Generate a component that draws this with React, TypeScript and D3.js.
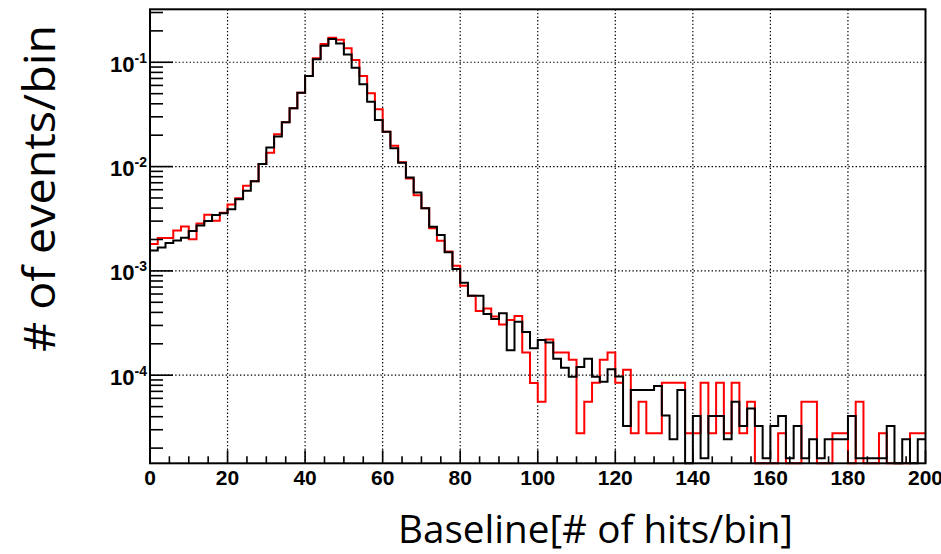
import * as d3 from "d3";

// bin width of the histogram (Baseline, # of hits/bin)
const binWidth = 2;
const xMin = 0;
const xMax = 200;

// red histogram, one value per 2-unit bin, 0..200
const redValues = [
  1.81e-3, 2.07e-3, 2.07e-3, 2.44e-3, 2.67e-3, 2.01e-3, 2.84e-3, 3.46e-3, 3.03e-3, 3.6e-3,
  4.33e-3, 4.97e-3, 6.56e-3, 7.24e-3, 1.06e-2, 1.36e-2, 2.04e-2, 2.66e-2, 3.62e-2, 5.11e-2,
  7.39e-2, 0.109, 0.15, 0.172, 0.164, 0.136, 0.105, 7.39e-2, 5.04e-2, 3.54e-2,
  2.16e-2, 1.58e-2, 1.1e-2, 7.69e-3, 5.31e-3, 3.98e-3, 2.56e-3, 1.95e-3, 1.53e-3, 1.12e-3,
  7.21e-4, 5.78e-4, 4.13e-4, 4.36e-4, 3.66e-4, 3.06e-4, 3.38e-4, 3.69e-4, 1.65e-4, 8.42e-5,
  5.57e-5, 2.2e-4, 1.65e-4, 1.65e-4, 1.41e-4, 2.77e-5, 5.57e-5, 8.47e-5, 1.41e-4, 1.65e-4,
  8.47e-5, 1.13e-4, 2.77e-5, 5.57e-5, 2.77e-5, 2.77e-5, 8.47e-5, 8.47e-5, 8.47e-5, 2.77e-5,
  2.77e-5, 8.47e-5, 2.77e-5, 8.47e-5, 2.77e-5, 8.47e-5, 2.77e-5, 5.57e-5, 0, 0,
  0, 2.77e-5, 0, 0, 5.57e-5, 5.57e-5, 0, 0, 2.77e-5, 2.77e-5,
  0, 5.57e-5, 0, 0, 2.77e-5, 0, 0, 0, 2.77e-5, 2.77e-5,
];

// black histogram
const blackValues = [
  1.57e-3, 1.68e-3, 1.85e-3, 1.96e-3, 2.08e-3, 2.41e-3, 2.72e-3, 3.01e-3, 3.44e-3, 3.57e-3,
  3.9e-3, 4.86e-3, 5.87e-3, 7.24e-3, 1.06e-2, 1.52e-2, 1.94e-2, 2.66e-2, 3.62e-2, 5.11e-2,
  7.39e-2, 0.107, 0.144, 0.167, 0.151, 0.119, 8.87e-2, 6.15e-2, 4.19e-2, 2.8e-2,
  2.16e-2, 1.5e-2, 1.09e-2, 7.86e-3, 5.65e-3, 3.98e-3, 2.65e-3, 2.21e-3, 1.51e-3, 1.04e-3,
  7.71e-4, 5.78e-4, 5.78e-4, 3.86e-4, 3.46e-4, 3.92e-4, 1.73e-4, 3.26e-4, 2.6e-4, 1.81e-4,
  2.17e-4, 2.06e-4, 1.44e-4, 1.18e-4, 9.68e-5, 1.2e-4, 1.44e-4, 9.68e-5, 8.67e-5, 1.14e-4,
  9.7e-5, 3.26e-5, 7.21e-5, 7.21e-5, 7.21e-5, 7.88e-5, 4.1e-5, 2.43e-5, 7.21e-5, 0,
  4.06e-5, 1.6e-5, 4.06e-5, 4.06e-5, 2.43e-5, 5.57e-5, 3.26e-5, 4.8e-5, 3.26e-5, 1.6e-5,
  3.26e-5, 4.06e-5, 1.6e-5, 3.26e-5, 1.6e-5, 2.43e-5, 1.6e-5, 2.43e-5, 2.43e-5, 2.43e-5,
  4.06e-5, 1.6e-5, 1.6e-5, 1.6e-5, 1.6e-5, 3.26e-5, 0, 2.43e-5, 0, 2.43e-5,
];

const xMajorTicks = [0, 20, 40, 60, 80, 100, 120, 140, 160, 180, 200];
const xMinorStep = 5;
const yDecades = [1e-4, 1e-3, 1e-2, 1e-1];
const yDecadeExponents = ["-4", "-3", "-2", "-1"];
const yMin = 1.43e-5;
const yMax = 0.322;

const W = 941;
const H = 554;
const frame = { left: 150, right: 925.5, top: 9.3, bottom: 463.3 };

const x = d3.scaleLinear().domain([xMin, xMax]).range([frame.left, frame.right]);
const y = d3
  .scaleLog()
  .domain([yMin, yMax])
  .range([frame.bottom, frame.top])
  .clamp(true);

function histPath(values: number[]) {
  const pts: [number, number][] = [];
  values.forEach((v, i) => {
    const yy = v > 0 ? y(v) : frame.bottom;
    pts.push([x(xMin + i * binWidth), yy], [x(xMin + (i + 1) * binWidth), yy]);
  });
  return d3.line()(pts) || "";
}

const labelFont = "'Liberation Sans', Arial, Helvetica, sans-serif";
const titleFont = "'Open Sans', 'Noto Sans', sans-serif";

export default function App() {
  const xMinor = d3.range(xMin, xMax + 0.001, xMinorStep).filter((t) => t % 20 !== 0);
  const yMinor: number[] = [];
  [1e-5, 1e-4, 1e-3, 1e-2, 1e-1].forEach((d) => {
    for (let m = 2; m <= 9; m++) {
      const v = m * d;
      if (v >= yMin && v <= yMax) yMinor.push(v);
    }
  });

  return (
    <svg
      width={W}
      height={H}
      style={{ position: "absolute", left: 0, top: 0, background: "#fff" }}
    >
      {/* grid */}
      <g stroke="#000" strokeWidth={1.2} strokeDasharray="1.4,2.2">
        {xMajorTicks
          .filter((t) => t > xMin && t < xMax)
          .map((t) => (
            <line key={"gx" + t} x1={x(t)} x2={x(t)} y1={frame.top} y2={frame.bottom} />
          ))}
        {yDecades.map((d) => (
          <line key={"gy" + d} x1={frame.left} x2={frame.right} y1={y(d)} y2={y(d)} />
        ))}
      </g>

      {/* histograms */}
      <path d={histPath(redValues)} fill="none" stroke="#ff0000" strokeWidth={2} />
      <path d={histPath(blackValues)} fill="none" stroke="#000" strokeWidth={2} />

      {/* frame */}
      <rect
        x={frame.left}
        y={frame.top}
        width={frame.right - frame.left}
        height={frame.bottom - frame.top}
        fill="none"
        stroke="#000"
        strokeWidth={2}
      />

      {/* y ticks */}
      <g stroke="#000" strokeWidth={1.6}>
        {yDecades.map((d) => (
          <line key={"ym" + d} x1={frame.left} x2={frame.left + 23} y1={y(d)} y2={y(d)} />
        ))}
        {yMinor.map((v) => (
          <line key={"yn" + v} x1={frame.left} x2={frame.left + 13} y1={y(v)} y2={y(v)} />
        ))}
      </g>

      {/* x ticks */}
      <g stroke="#000" strokeWidth={1.6}>
        {xMajorTicks.map((t) => (
          <line key={"xm" + t} x1={x(t)} x2={x(t)} y1={frame.bottom} y2={frame.bottom - 13} />
        ))}
        {xMinor.map((t) => (
          <line key={"xn" + t} x1={x(t)} x2={x(t)} y1={frame.bottom} y2={frame.bottom - 7} />
        ))}
      </g>

      {/* x tick labels */}
      <g fontFamily={labelFont} fontWeight="bold" fontSize={21} textAnchor="middle" fill="#000">
        {xMajorTicks.map((t) => (
          <text key={"xl" + t} x={x(t)} y={frame.bottom + 22}>
            {t}
          </text>
        ))}
      </g>

      {/* y tick labels */}
      <g fontFamily={labelFont} fontWeight="bold" fill="#000" textAnchor="end">
        {yDecades.map((d, i) => (
          <text key={"yl" + d} x={147} y={y(d) + 9.5} fontSize={22}>
            10
            <tspan fontSize={14} dy={-9}>
              {yDecadeExponents[i]}
            </tspan>
          </text>
        ))}
      </g>

      {/* axis titles */}
      <text
        transform={`translate(55, ${(25 + 352) / 2}) rotate(-90)`}
        textAnchor="middle"
        fontFamily={titleFont}
        fontSize={44}
        textLength={327}
        lengthAdjust="spacingAndGlyphs"
        fill="#000"
      >
        # of events/bin
      </text>
      <text
        x={398}
        y={543}
        fontFamily={titleFont}
        fontSize={39}
        textLength={395}
        lengthAdjust="spacingAndGlyphs"
        fill="#000"
      >
        Baseline[# of hits/bin]
      </text>
    </svg>
  );
}
